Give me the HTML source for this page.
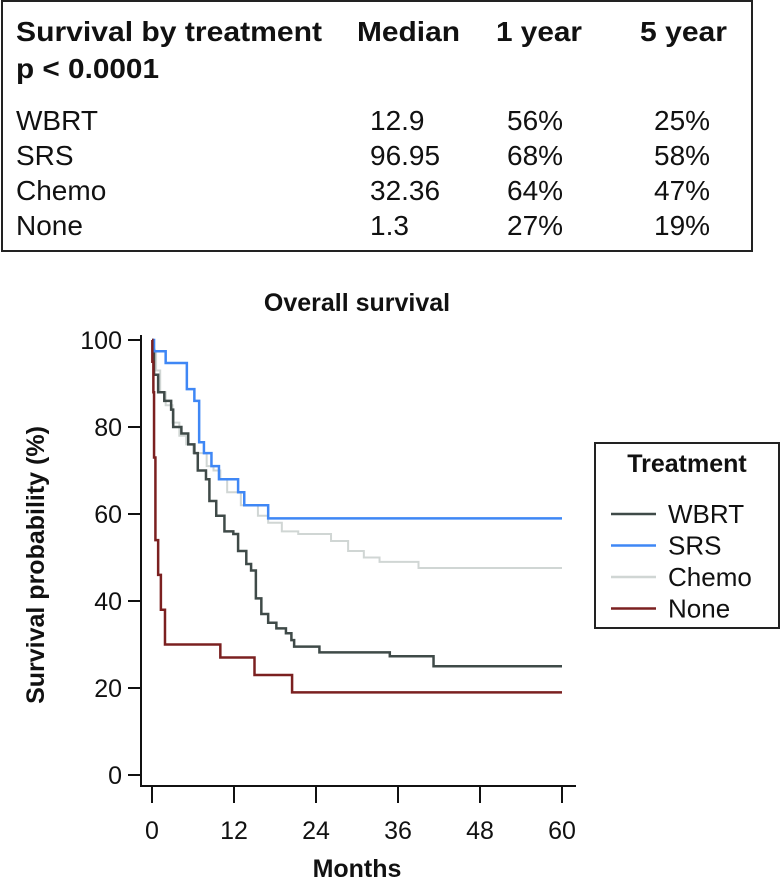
<!DOCTYPE html>
<html><head><meta charset="utf-8"><style>
html,body{margin:0;padding:0;background:#fff;width:780px;height:885px;overflow:hidden;font-family:"Liberation Sans",sans-serif;}
svg text{font-family:"Liberation Sans",sans-serif;fill:#111;}
</style></head><body>
<svg id="chart" width="780" height="885" viewBox="0 0 780 885" xmlns="http://www.w3.org/2000/svg">
<g>
<rect x="2" y="1" width="750" height="250" fill="none" stroke="#222" stroke-width="2"/>
<g font-size="28" font-weight="bold">
<text x="16" y="41" textLength="306" lengthAdjust="spacingAndGlyphs">Survival by treatment</text>
<text x="357" y="41" textLength="103" lengthAdjust="spacingAndGlyphs">Median</text>
<text x="496" y="41" textLength="86" lengthAdjust="spacingAndGlyphs">1 year</text>
<text x="640" y="41" textLength="87" lengthAdjust="spacingAndGlyphs">5 year</text>
<text x="16" y="78" textLength="143" lengthAdjust="spacingAndGlyphs">p &lt; 0.0001</text>
</g>
<g font-size="28">
<text x="16" y="130">WBRT</text>
<text x="370" y="130">12.9</text>
<text x="507" y="130">56%</text>
<text x="654" y="130">25%</text>
<text x="16" y="165">SRS</text>
<text x="370" y="165">96.95</text>
<text x="507" y="165">68%</text>
<text x="654" y="165">58%</text>
<text x="16" y="200">Chemo</text>
<text x="370" y="200">32.36</text>
<text x="507" y="200">64%</text>
<text x="654" y="200">47%</text>
<text x="16" y="235">None</text>
<text x="370" y="235">1.3</text>
<text x="507" y="235">27%</text>
<text x="654" y="235">19%</text>
</g>
</g>
<text x="357" y="311" font-size="25" font-weight="bold" text-anchor="middle">Overall survival</text>
<text transform="translate(44,565) rotate(-90)" font-size="25" font-weight="bold" text-anchor="middle">Survival probability (%)</text>
<text x="357" y="877" font-size="25" font-weight="bold" text-anchor="middle">Months</text>
<g id="axes"></g>
<g id="curves"></g>
<g>
<rect x="595" y="443" width="184" height="185" fill="none" stroke="#222" stroke-width="2"/>
<text x="687" y="472" font-size="25" font-weight="bold" text-anchor="middle">Treatment</text>
<g id="legend-items"></g>
</g>
</svg>
<script>
const groups = ["WBRT","SRS","Chemo","None"];
const colors = ["#3f4a48","#3f87f5","#d0d6d4","#7b2020"];
const xTicks = [0,12,24,36,48,60];
const yTicks = [0,20,40,60,80,100];
// [month, survival %] step points
const wbrtMonths = [0,0.1,0.3,0.9,1.8,2.8,3.1,4.3,5.3,6.2,6.7,7.9,8.4,9.4,10.6,11.9,12.6,13.8,14.5,15.2,16,17,18.2,19.6,20.4,20.8,24.5,34.8,41.2,60];
const wbrtSurv   = [100,97.7,92,88,86,84,80,78.5,76,74,70,68,63,59.6,56,55.4,51.5,48.5,47,40.6,37,35,33.7,32.6,31,29.5,28.2,27.3,25,25];
const srsMonths = [0,0.3,2,5.1,6.2,6.9,7.6,8.7,9.8,12.6,13.5,17,60];
const srsSurv   = [100,97.4,94.7,88.7,86,76.5,74,71,68,65,62,59,59];
const chemoMonths = [0,0.2,0.6,1.2,2,3,4,5,6,8,9,10,11,13,15.5,17,19,21.4,26.2,28.7,31,33.3,39,60];
const chemoSurv   = [100,97,93,88,85,81,78,76,74,71,70,68,65,62,59.6,58,56,55.4,53.8,51.5,50,49,47.6,47.6];
const noneMonths = [0,0.05,0.2,0.3,0.5,0.9,1.3,1.9,10,15,20.5,60];
const noneSurv   = [100,95,88,73,54,46,38,30,27,23,19,19];
const seriesMonths = [wbrtMonths,srsMonths,chemoMonths,noneMonths];
const seriesSurv = [wbrtSurv,srsSurv,chemoSurv,noneSurv];

const NS="http://www.w3.org/2000/svg";
const xs = m => 152 + m*(562-152)/60;
const ys = v => 775 - v*(775-340)/100;
const axes=document.getElementById('axes');
function mk(tag,attrs,parent){const e=document.createElementNS(NS,tag);for(const k in attrs)e.setAttribute(k,attrs[k]);parent.appendChild(e);return e;}
let yl=mk('line',{x1:141,y1:335,x2:141,y2:787,stroke:'#111','stroke-width':2},axes);


let xl=mk('line',{x1:140,y1:786,x2:576,y2:786,stroke:'#111','stroke-width':2},axes);


yTicks.forEach(v=>{
  const t=mk('line',{x1:128,y1:ys(v),x2:141,y2:ys(v),stroke:'#111','stroke-width':2},axes);
  
  
  const l=mk('text',{x:122,y:ys(v)+9,'font-size':25,'text-anchor':'end'},axes);
  l.textContent=v;
  
  
});
xTicks.forEach(v=>{
  const t=mk('line',{x1:xs(v),y1:786,x2:xs(v),y2:803,stroke:'#111','stroke-width':2},axes);
  
  
  const l=mk('text',{x:xs(v),y:839,'font-size':25,'text-anchor':'middle'},axes);
  l.textContent=v;
  
  
});
const curves=document.getElementById('curves');
const order=[2,0,1,3];
order.forEach(i=>{
  const M=seriesMonths[i],S=seriesSurv[i];
  let d='M'+xs(M[0])+','+ys(S[0]);
  for(let k=1;k<M.length;k++){d+=' H'+xs(M[k])+' V'+ys(S[k]);}
  const p=mk('path',{d:d,fill:'none',stroke:colors[i],'stroke-width':i==2?2:2.5},curves);
  
  
});
const li=document.getElementById('legend-items');
groups.forEach((g,i)=>{
  const y=514+i*31.5;
  const ln=mk('line',{x1:611,y1:y,x2:656,y2:y,stroke:colors[i],'stroke-width':2.5},li);
  
  
  const t=mk('text',{x:668,y:y+9,'font-size':26},li);
  t.textContent=g;
  
  
});
</script>
</body></html>
